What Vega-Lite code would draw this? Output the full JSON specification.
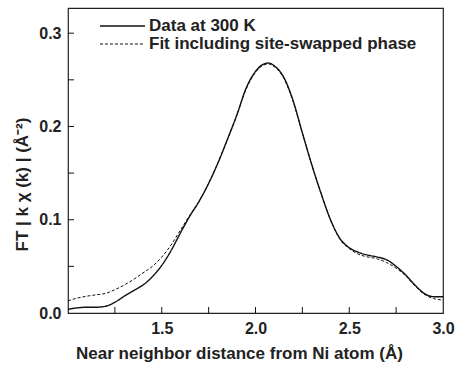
{
  "$schema": "https://vega.github.io/schema/vega-lite/v6.json",
  "autosize": "none",
  "width": 375,
  "height": 305,
  "padding": {"left": 68, "top": 8, "right": 12, "bottom": 54},
  "config": {
    "view": {"stroke": "#222", "strokeWidth": 1.2},
    "font": "Liberation Sans"
  },
  "datasets": {
    "xticks": [{"v": 1.25}, {"v": 1.5}, {"v": 1.75}, {"v": 2.0}, {"v": 2.25}, {"v": 2.5}, {"v": 2.75}],
    "yticks": [{"v": 0.05}, {"v": 0.1}, {"v": 0.15}, {"v": 0.2}, {"v": 0.25}, {"v": 0.3}]
  },
  "layer": [
    {
      "data": {
        "values": [
          {"r": 1.00, "ft": 0.004, "s": "Data at 300 K"},
          {"r": 1.05, "ft": 0.0055, "s": "Data at 300 K"},
          {"r": 1.10, "ft": 0.0062, "s": "Data at 300 K"},
          {"r": 1.15, "ft": 0.0062, "s": "Data at 300 K"},
          {"r": 1.20, "ft": 0.0072, "s": "Data at 300 K"},
          {"r": 1.25, "ft": 0.0115, "s": "Data at 300 K"},
          {"r": 1.30, "ft": 0.018, "s": "Data at 300 K"},
          {"r": 1.35, "ft": 0.024, "s": "Data at 300 K"},
          {"r": 1.40, "ft": 0.030, "s": "Data at 300 K"},
          {"r": 1.45, "ft": 0.039, "s": "Data at 300 K"},
          {"r": 1.50, "ft": 0.051, "s": "Data at 300 K"},
          {"r": 1.55, "ft": 0.067, "s": "Data at 300 K"},
          {"r": 1.60, "ft": 0.086, "s": "Data at 300 K"},
          {"r": 1.65, "ft": 0.104, "s": "Data at 300 K"},
          {"r": 1.70, "ft": 0.120, "s": "Data at 300 K"},
          {"r": 1.75, "ft": 0.139, "s": "Data at 300 K"},
          {"r": 1.80, "ft": 0.161, "s": "Data at 300 K"},
          {"r": 1.85, "ft": 0.186, "s": "Data at 300 K"},
          {"r": 1.90, "ft": 0.212, "s": "Data at 300 K"},
          {"r": 1.95, "ft": 0.241, "s": "Data at 300 K"},
          {"r": 2.00, "ft": 0.259, "s": "Data at 300 K"},
          {"r": 2.04, "ft": 0.2665, "s": "Data at 300 K"},
          {"r": 2.07, "ft": 0.268, "s": "Data at 300 K"},
          {"r": 2.10, "ft": 0.265, "s": "Data at 300 K"},
          {"r": 2.15, "ft": 0.253, "s": "Data at 300 K"},
          {"r": 2.20, "ft": 0.228, "s": "Data at 300 K"},
          {"r": 2.25, "ft": 0.193, "s": "Data at 300 K"},
          {"r": 2.30, "ft": 0.159, "s": "Data at 300 K"},
          {"r": 2.35, "ft": 0.128, "s": "Data at 300 K"},
          {"r": 2.40, "ft": 0.100, "s": "Data at 300 K"},
          {"r": 2.45, "ft": 0.080, "s": "Data at 300 K"},
          {"r": 2.50, "ft": 0.070, "s": "Data at 300 K"},
          {"r": 2.55, "ft": 0.065, "s": "Data at 300 K"},
          {"r": 2.60, "ft": 0.062, "s": "Data at 300 K"},
          {"r": 2.65, "ft": 0.060, "s": "Data at 300 K"},
          {"r": 2.70, "ft": 0.057, "s": "Data at 300 K"},
          {"r": 2.75, "ft": 0.050, "s": "Data at 300 K"},
          {"r": 2.80, "ft": 0.041, "s": "Data at 300 K"},
          {"r": 2.85, "ft": 0.030, "s": "Data at 300 K"},
          {"r": 2.90, "ft": 0.021, "s": "Data at 300 K"},
          {"r": 2.95, "ft": 0.0175, "s": "Data at 300 K"},
          {"r": 3.00, "ft": 0.0174, "s": "Data at 300 K"},
          {"r": 1.00, "ft": 0.013, "s": "Fit including site-swapped phase"},
          {"r": 1.05, "ft": 0.016, "s": "Fit including site-swapped phase"},
          {"r": 1.10, "ft": 0.018, "s": "Fit including site-swapped phase"},
          {"r": 1.15, "ft": 0.0195, "s": "Fit including site-swapped phase"},
          {"r": 1.20, "ft": 0.021, "s": "Fit including site-swapped phase"},
          {"r": 1.25, "ft": 0.025, "s": "Fit including site-swapped phase"},
          {"r": 1.30, "ft": 0.030, "s": "Fit including site-swapped phase"},
          {"r": 1.35, "ft": 0.036, "s": "Fit including site-swapped phase"},
          {"r": 1.40, "ft": 0.043, "s": "Fit including site-swapped phase"},
          {"r": 1.45, "ft": 0.050, "s": "Fit including site-swapped phase"},
          {"r": 1.50, "ft": 0.060, "s": "Fit including site-swapped phase"},
          {"r": 1.55, "ft": 0.073, "s": "Fit including site-swapped phase"},
          {"r": 1.60, "ft": 0.089, "s": "Fit including site-swapped phase"},
          {"r": 1.65, "ft": 0.105, "s": "Fit including site-swapped phase"},
          {"r": 1.70, "ft": 0.120, "s": "Fit including site-swapped phase"},
          {"r": 1.75, "ft": 0.139, "s": "Fit including site-swapped phase"},
          {"r": 1.80, "ft": 0.161, "s": "Fit including site-swapped phase"},
          {"r": 1.85, "ft": 0.186, "s": "Fit including site-swapped phase"},
          {"r": 1.90, "ft": 0.212, "s": "Fit including site-swapped phase"},
          {"r": 1.95, "ft": 0.240, "s": "Fit including site-swapped phase"},
          {"r": 2.00, "ft": 0.258, "s": "Fit including site-swapped phase"},
          {"r": 2.04, "ft": 0.2655, "s": "Fit including site-swapped phase"},
          {"r": 2.07, "ft": 0.267, "s": "Fit including site-swapped phase"},
          {"r": 2.10, "ft": 0.264, "s": "Fit including site-swapped phase"},
          {"r": 2.15, "ft": 0.252, "s": "Fit including site-swapped phase"},
          {"r": 2.20, "ft": 0.227, "s": "Fit including site-swapped phase"},
          {"r": 2.25, "ft": 0.193, "s": "Fit including site-swapped phase"},
          {"r": 2.30, "ft": 0.159, "s": "Fit including site-swapped phase"},
          {"r": 2.35, "ft": 0.128, "s": "Fit including site-swapped phase"},
          {"r": 2.40, "ft": 0.100, "s": "Fit including site-swapped phase"},
          {"r": 2.45, "ft": 0.079, "s": "Fit including site-swapped phase"},
          {"r": 2.50, "ft": 0.069, "s": "Fit including site-swapped phase"},
          {"r": 2.55, "ft": 0.063, "s": "Fit including site-swapped phase"},
          {"r": 2.60, "ft": 0.060, "s": "Fit including site-swapped phase"},
          {"r": 2.65, "ft": 0.058, "s": "Fit including site-swapped phase"},
          {"r": 2.70, "ft": 0.054, "s": "Fit including site-swapped phase"},
          {"r": 2.75, "ft": 0.048, "s": "Fit including site-swapped phase"},
          {"r": 2.80, "ft": 0.040, "s": "Fit including site-swapped phase"},
          {"r": 2.85, "ft": 0.029, "s": "Fit including site-swapped phase"},
          {"r": 2.90, "ft": 0.020, "s": "Fit including site-swapped phase"},
          {"r": 2.95, "ft": 0.0155, "s": "Fit including site-swapped phase"},
          {"r": 3.00, "ft": 0.014, "s": "Fit including site-swapped phase"}
        ]
      },
      "mark": {"type": "line", "color": "#111", "interpolate": "monotone", "clip": true},
      "encoding": {
        "x": {
          "field": "r", "type": "quantitative",
          "title": "Near neighbor distance from Ni atom (Å)",
          "scale": {"domain": [1.0, 3.0], "nice": false, "zero": false},
          "axis": {
            "title": "Near neighbor distance from Ni atom (Å)",
            "values": [1.5, 2.0, 2.5, 3.0],
            "format": ".1f",
            "labelFlush": false,
            "grid": false,
            "domain": false,
            "ticks": false,
            "tickSize": 0,
            "labelPadding": 20,
            "labelBaseline": "alphabetic",
            "labelFont": "Liberation Sans",
            "labelFontSize": 16,
            "labelFontWeight": "bold",
            "labelColor": "#222",
            "titleFont": "Liberation Sans",
            "titleFontSize": 17,
            "titleFontWeight": "bold",
            "titleColor": "#222",
            "titleX": 171,
            "titleY": 45,
            "titleBaseline": "alphabetic",
            "titleAlign": "center"
          }
        },
        "y": {
          "field": "ft", "type": "quantitative",
          "title": "FT | k χ (k) |    (Å⁻²)",
          "scale": {"domain": [0, 0.327], "nice": false},
          "axis": {
            "title": "FT | k χ (k) |    (Å⁻²)",
            "values": [0, 0.1, 0.2, 0.3],
            "format": ".1f",
            "grid": false,
            "domain": false,
            "ticks": false,
            "tickSize": 0,
            "labelPadding": 7,
            "labelFlush": false,
            "labelFont": "Liberation Sans",
            "labelFontSize": 16,
            "labelFontWeight": "bold",
            "labelColor": "#222",
            "titleFont": "Liberation Sans",
            "titleFontSize": 17,
            "titleFontWeight": "bold",
            "titleColor": "#222",
            "titleX": -46,
            "titleY": 176,
            "titleAngle": -90,
            "titleBaseline": "middle",
            "titleAlign": "center"
          }
        },
        "strokeDash": {
          "field": "s", "type": "nominal",
          "scale": {"domain": ["Data at 300 K", "Fit including site-swapped phase"], "range": [[1, 0], [3, 2]]},
          "legend": {
            "title": null,
            "orient": "none",
            "legendX": 46,
            "legendY": 9.5,
            "padding": 0,
            "symbolType": "M-4,0H4",
            "symbolSize": 127,
            "symbolStrokeColor": "#111",
            "symbolStrokeWidth": 1.2,
            "labelFont": "Liberation Sans",
            "labelFontSize": 17,
            "labelFontWeight": "bold",
            "labelColor": "#222",
            "labelOffset": 18,
            "labelLimit": 0,
            "rowPadding": 0
          }
        },
        "strokeWidth": {
          "field": "s", "type": "nominal",
          "scale": {"domain": ["Data at 300 K", "Fit including site-swapped phase"], "range": [1.4, 1.0]},
          "legend": null
        }
      }
    },
    {
      "data": {"name": "xticks"},
      "mark": {"type": "tick", "orient": "vertical", "size": 12, "thickness": 1, "color": "#111", "opacity": 1, "clip": true},
      "encoding": {
        "x": {"field": "v", "type": "quantitative", "title": "Near neighbor distance from Ni atom (Å)", "scale": {"domain": [1.0, 3.0], "nice": false, "zero": false}},
        "y": {"datum": 0, "type": "quantitative", "title": "FT | k χ (k) |    (Å⁻²)", "scale": {"domain": [0, 0.327], "nice": false}}
      }
    },
    {
      "data": {"name": "yticks"},
      "mark": {"type": "tick", "orient": "horizontal", "size": 12, "thickness": 1, "color": "#111", "opacity": 1, "clip": true},
      "encoding": {
        "y": {"field": "v", "type": "quantitative", "title": "FT | k χ (k) |    (Å⁻²)", "scale": {"domain": [0, 0.327], "nice": false}},
        "x": {"datum": 1.0, "type": "quantitative", "title": "Near neighbor distance from Ni atom (Å)", "scale": {"domain": [1.0, 3.0], "nice": false, "zero": false}}
      }
    }
  ]
}
